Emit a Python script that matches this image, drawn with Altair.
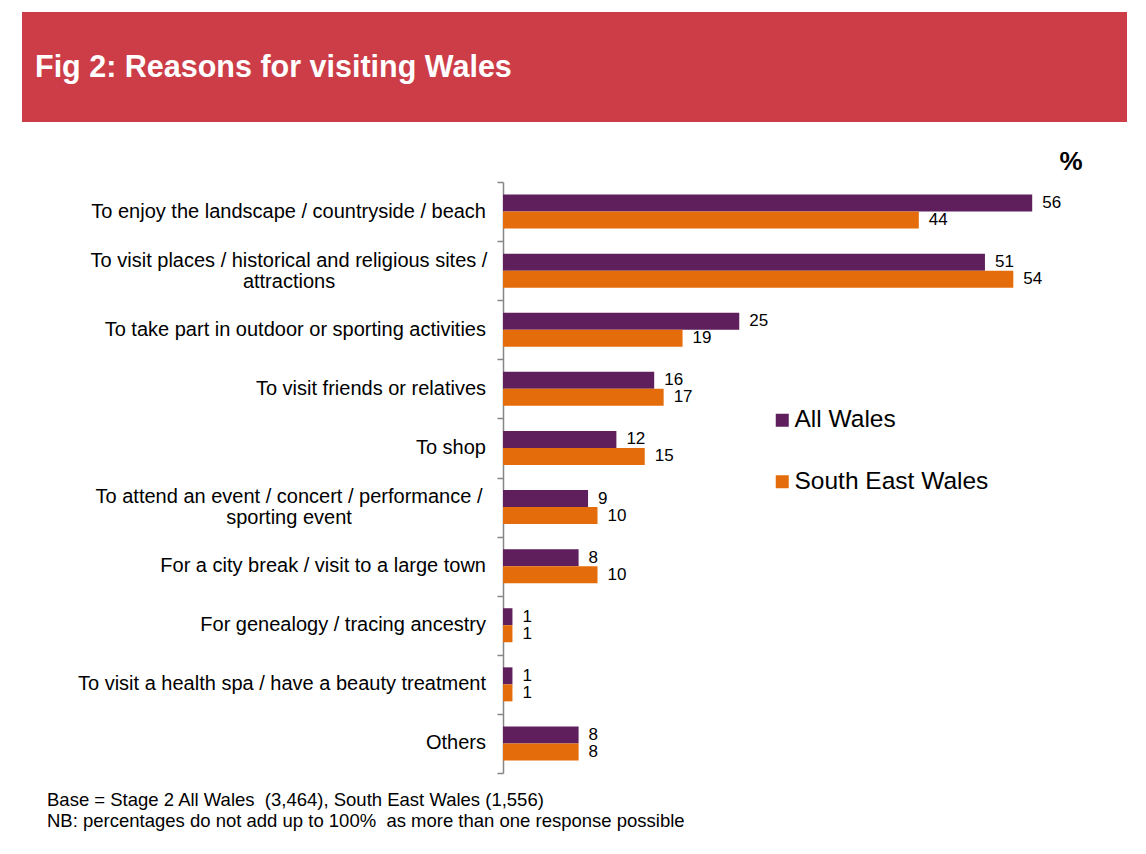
import altair as alt
import pandas as pd

categories = [
    "To enjoy the landscape / countryside / beach",
    "To visit places / historical and religious sites /|attractions",
    "To take part in outdoor or sporting activities",
    "To visit friends or relatives",
    "To shop",
    "To attend an event / concert / performance /|sporting event",
    "For a city break / visit to a large town",
    "For genealogy / tracing ancestry",
    "To visit a health spa / have a beauty treatment",
    "Others",
]
series = ["All Wales", "South East Wales"]
all_wales = [56, 51, 25, 16, 12, 9, 8, 1, 1, 8]
south_east = [44, 54, 19, 17, 15, 10, 10, 1, 1, 8]
colors = ["#5E1F5C", "#E46C0A"]

title_text = "Fig 2: Reasons for visiting Wales"
notes = [
    "Base = Stage 2 All Wales \u00a0(3,464), South East Wales (1,556)",
    "NB: percentages do not add up to 100% \u00a0as more than one response possible",
]

rows = []
for c, a, s in zip(categories, all_wales, south_east):
    rows.append({"category": c, "series": series[0], "value": a})
    rows.append({"category": c, "series": series[1], "value": s})
df = pd.DataFrame(rows)
cat_df = pd.DataFrame({"category": categories})

FONT = "Liberation Sans"
W, H = 567, 591

y_scale = alt.Scale(domain=categories, paddingInner=0, paddingOuter=0)
y_enc = alt.Y("category:N", sort=categories, scale=y_scale, axis=None)
yoff = alt.YOffset("series:N", sort=series, scale=alt.Scale(paddingOuter=0.738, paddingInner=0))
x_enc = alt.X("value:Q", scale=alt.Scale(domain=[0, 60]), axis=None)

base = alt.Chart(df)
bars = base.mark_bar().encode(
    x=x_enc,
    y=y_enc,
    yOffset=yoff,
    color=alt.Color(
        "series:N",
        sort=series,
        scale=alt.Scale(domain=series, range=colors),
        legend=alt.Legend(
            title=None,
            orient="none",
            legendX=267,
            legendY=226,
            symbolType="square",
            symbolSize=169,
            symbolStrokeWidth=0,
            labelFont=FONT,
            labelFontSize=24.5,
            labelColor="#000000",
            labelOffset=0,
            labelLimit=1000,
            rowPadding=36.5,
        ),
    ),
)
labels = base.mark_text(align="left", baseline="middle", dx=10, font=FONT, fontSize=17, color="#000000").encode(
    x=x_enc,
    y=y_enc,
    yOffset=yoff,
    text="value:Q",
)

multi = "indexof(datum.category, '|') >= 0"
cat_single = alt.Chart(cat_df).transform_filter("!(" + multi + ")").mark_text(
    baseline="middle", align="right", font=FONT, fontSize=20, color="#000000"
).encode(y=y_enc, text="category:N", x=alt.value(-17))
cat_multi = alt.Chart(cat_df).transform_filter(multi).mark_text(
    baseline="middle", align="center", font=FONT, fontSize=20, color="#000000",
    lineBreak="|", lineHeight=21, dy=-10
).encode(y=y_enc, text="category:N", x=alt.value(-214))

tick_df = pd.DataFrame({"t": list(range(len(categories) + 1))})
ticks = alt.Chart(tick_df).mark_point(opacity=0).encode(
    y=alt.Y(
        "t:Q",
        scale=alt.Scale(domain=[0, len(categories)], nice=False, zero=False),
        axis=alt.Axis(
            orient="left",
            title=None,
            labels=False,
            grid=False,
            values=list(range(len(categories) + 1)),
            tickSize=6,
            tickColor="#868686",
            domainColor="#868686",
            tickWidth=1.5,
            domainWidth=1.5,
        ),
    )
)

banner = alt.Chart(pd.DataFrame({"k": [0]})).mark_rect(color="#CC3D48").encode(
    x=alt.value(-481), x2=alt.value(624), y=alt.value(-170), y2=alt.value(-60)
)
title = alt.Chart(pd.DataFrame({"t": [title_text]})).mark_text(
    align="left", baseline="alphabetic", font=FONT, fontSize=30.5, fontWeight="bold", color="#FFFFFF"
).encode(text="t:N", x=alt.value(-468), y=alt.value(-105))
pct = alt.Chart(pd.DataFrame({"t": ["%"]})).mark_text(
    align="center", baseline="alphabetic", font=FONT, fontSize=26, fontWeight="bold", color="#000000"
).encode(text="t:N", x=alt.value(568), y=alt.value(-12))
note1 = alt.Chart(pd.DataFrame({"t": [notes[0]]})).mark_text(
    align="left", baseline="alphabetic", font=FONT, fontSize=18.5, color="#000000"
).encode(text="t:N", x=alt.value(-456), y=alt.value(624))
note2 = alt.Chart(pd.DataFrame({"t": [notes[1]]})).mark_text(
    align="left", baseline="alphabetic", font=FONT, fontSize=18.5, color="#000000"
).encode(text="t:N", x=alt.value(-456), y=alt.value(645))

main = alt.layer(bars, labels, cat_single, cat_multi)
chart = alt.layer(main, ticks, banner, title, pct, note1, note2).resolve_scale(y="independent").properties(
    width=W,
    height=H,
    background="#FFFFFF",
    autosize=alt.AutoSizeParams(type="none"),
    padding={"left": 495, "top": 174, "right": 68, "bottom": 73},
).configure_view(stroke=None)

chart.save("out.html", embed_options={"renderer": "svg", "actions": False})
